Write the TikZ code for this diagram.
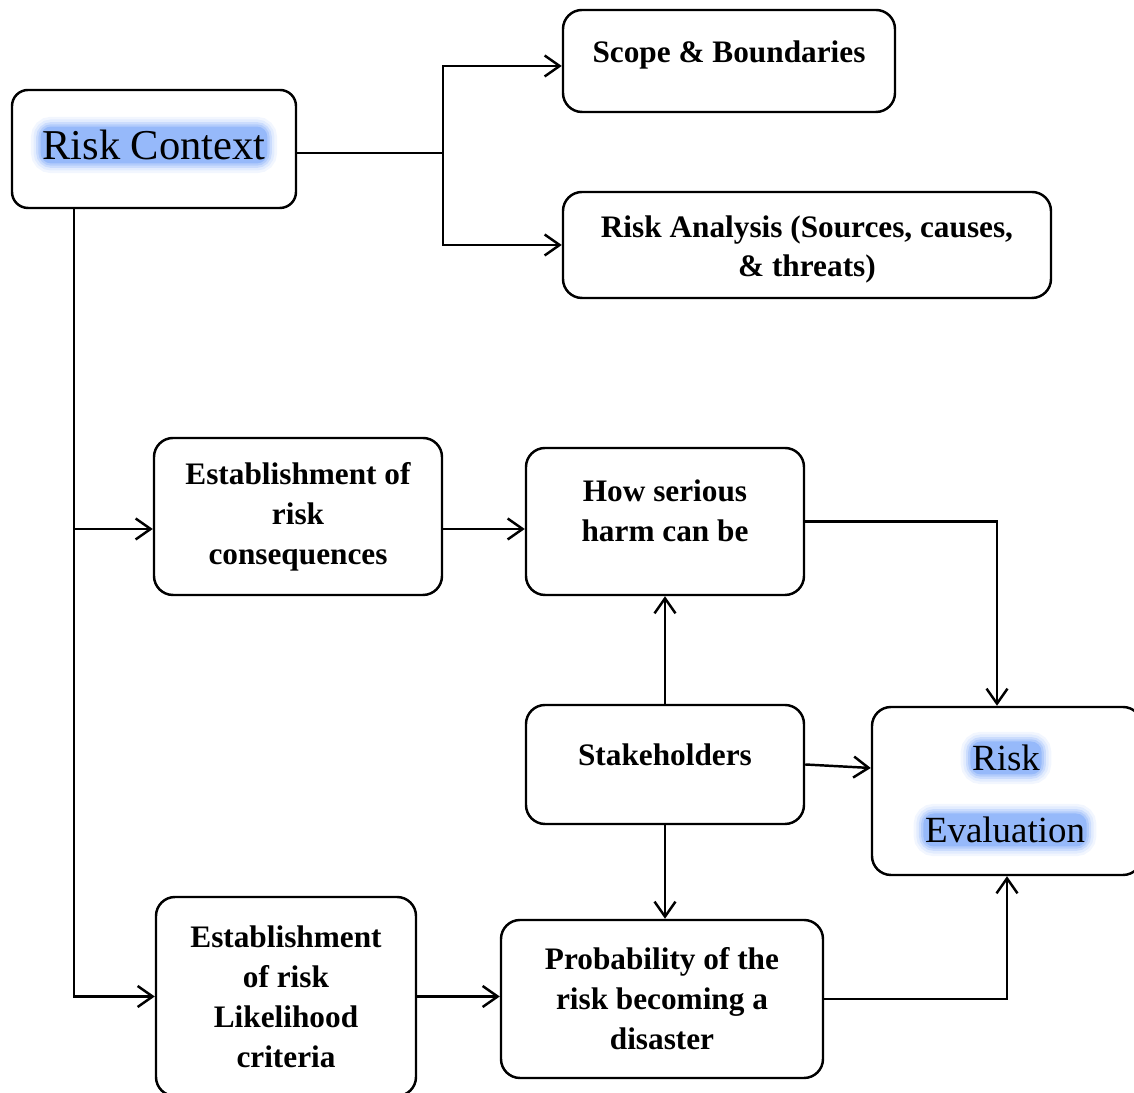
\documentclass[tikz,border=0pt]{standalone}
\usepackage{fontspec}
\setmainfont{Liberation Serif}
\usetikzlibrary{arrows.meta,calc,positioning}
\definecolor{glowblue}{RGB}{150,185,250}

\begin{document}
\begin{tikzpicture}[
    box/.style={draw, line width=1.4pt, rounded corners=0.38cm, align=center, inner sep=0pt,
        font=\bfseries\fontsize{17.8}{22.7}\selectfont},
    boxtext/.style={align=center, inner sep=0pt, font=\bfseries\fontsize{17.8}{22.7}\selectfont},
    arrow/.style={-{Straight Barb[length=0.3cm,width=0.42cm]}, line width=1.4pt},
    link/.style={line width=1.4pt},
    glow/.style={fill=glowblue, rounded corners=6pt, inner xsep=1pt, inner ysep=2pt,
        preaction={draw=glowblue, line width=11pt, draw opacity=0.12},
        preaction={draw=glowblue, line width=8pt, draw opacity=0.18},
        preaction={draw=glowblue, line width=5pt, draw opacity=0.3},
        preaction={draw=glowblue, line width=2.5pt, draw opacity=0.45}}
]
    \useasboundingbox (0,0) rectangle (22.68,21.86);

    % Risk context and what it sets out
    \node[box, minimum width=5.68cm, minimum height=2.36cm, rounded corners=0.32cm] (ctx) at (3.08,18.88) {};
    \node[glow, font=\fontsize{24.2}{29}\selectfont] (ctxlabel) at (3.08,18.96) {Risk Context};

    \node[box, minimum width=6.64cm, minimum height=2.04cm] (scope) at (14.58,20.64) {};
    \node[boxtext] (scopetext) at (14.58,20.76) {Scope \& Boundaries};
    \node[box, minimum width=9.76cm, minimum height=2.12cm] (analysis) at (16.14,16.96) {};
    \node[boxtext] (analysistext) at (16.14,16.87) {Risk Analysis (Sources, causes,\\\& threats)};

    \coordinate (fork) at ($(ctx.east)+(2.92,-0.08)$);
    \draw[link] ([yshift=-0.08cm]ctx.east) -- (fork);
    \draw[arrow] (fork) |- ([yshift=-0.1cm]scope.west);
    \draw[arrow] (fork) |- (analysis.west);

    % Criteria
    \node[box, minimum width=5.76cm, minimum height=3.14cm] (estcons) at (5.96,11.53) {Establishment of\\risk\\consequences};
    \node[box, minimum width=5.20cm, minimum height=3.98cm] (estlik) at (5.72,1.93) {Establishment\\of risk\\Likelihood\\criteria};

    \coordinate (trunk) at ($(ctx.south west)+(1.26,0)$);
    \draw[link] (trunk) -- (trunk |- estlik.west);
    \draw[arrow] (trunk) |- ([yshift=-0.25cm]estcons.west);
    \draw[arrow] (trunk) |- (estlik.west);

    % Middle column
    \node[box, minimum width=5.56cm, minimum height=2.94cm] (serious) at (13.30,11.43) {};
    \node[boxtext] (serioustext) at (13.30,11.65) {How serious\\harm can be};
    \node[box, minimum width=5.56cm, minimum height=2.38cm] (stake) at (13.30,6.57) {};
    \node[boxtext] (staketext) at (13.30,6.77) {Stakeholders};
    \node[box, minimum width=6.44cm, minimum height=3.16cm] (prob) at (13.24,1.88) {Probability of the\\risk becoming a\\disaster};

    \draw[arrow] ([yshift=-0.25cm]estcons.east) -- ([yshift=-0.25cm]estcons.east -| serious.west);
    \draw[arrow] (estlik.east) -- (estlik.east -| prob.west);
    \draw[arrow] (stake.north) -- (serious.south);
    \draw[arrow] (stake.south) -- (stake.south |- prob.north);

    % Evaluation
    \node[box, minimum width=5.40cm, minimum height=3.36cm] (reval) at (20.14,6.04) {};
    \node[glow, font=\fontsize{21}{25}\selectfont] (revalrisk) at (20.12,6.70) {Risk};
    \node[glow, font=\fontsize{21}{25}\selectfont] (revaleval) at (20.10,5.26) {Evaluation};

    \draw[arrow] (serious.east) -| ([xshift=-0.2cm]reval.north);
    \draw[arrow] (stake.east) -- ([yshift=0.46cm]reval.west);
    \draw[arrow] (prob.east) -| (reval.south);
\end{tikzpicture}
\end{document}
